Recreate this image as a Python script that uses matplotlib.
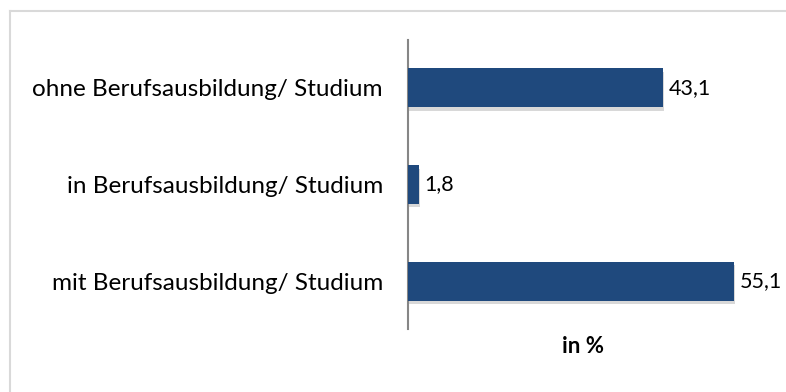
import matplotlib
matplotlib.use("Agg")
import matplotlib.pyplot as plt
import matplotlib.patheffects as pe
from matplotlib.lines import Line2D

categories = ["mit Berufsausbildung/ Studium", "in Berufsausbildung/ Studium", "ohne Berufsausbildung/ Studium"]
values = [55.1, 1.8, 43.1]
value_labels = ["55,1", "1,8", "43,1"]
xlabel = "in %"

plt.rcParams['font.family'] = ['Lato', 'DejaVu Sans']

fig = plt.figure(figsize=(7.86, 3.92), dpi=100)
W, H = 786, 392
ax = fig.add_axes([408 / W, 1 - 329.5 / H, (757 - 408) / W, (329.5 - 39.5) / H])

bars = ax.barh(range(len(categories)), values, height=0.40, color="#1F497D", zorder=3)
for b in bars:
    b.set_path_effects([pe.SimplePatchShadow(offset=(1.0, -2.5), shadow_rgbFace="gray", alpha=0.3), pe.Normal()])

for i, (v, lab) in enumerate(zip(values, value_labels)):
    ax.text(v + 1.0, i, lab, va="center", ha="left", fontsize=15.5, color="#000000")

ax.set_xlim(0, 59)
ax.set_ylim(-0.5, len(categories) - 0.5)
ax.set_yticks(range(len(categories)))
ax.set_yticklabels(categories, fontsize=17.5)
ax.tick_params(axis="y", length=0, pad=18)
ax.set_xticks([])
for s in ["top", "right", "bottom"]:
    ax.spines[s].set_visible(False)
ax.spines["left"].set_color("#868686")
ax.spines["left"].set_linewidth(1.5)
ax.set_xlabel(xlabel, fontsize=16, fontweight="bold", labelpad=5)

# frame lines (top and left)
fig.add_artist(Line2D([9.5 / W, 1], [1 - 10.5 / H, 1 - 10.5 / H], color="#D9D9D9", lw=1.5, transform=fig.transFigure))
fig.add_artist(Line2D([9.5 / W, 9.5 / W], [0, 1 - 10.5 / H], color="#D9D9D9", lw=1.5, transform=fig.transFigure))

fig.savefig("out.png", dpi=100)
